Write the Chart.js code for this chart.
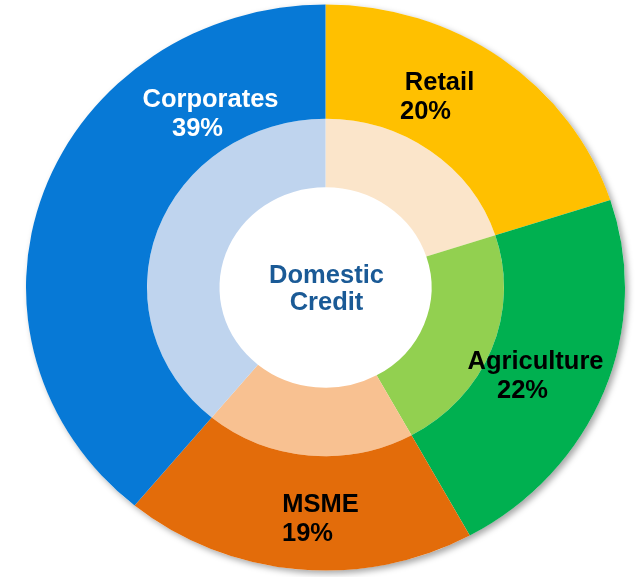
<!DOCTYPE html>
<html>
<head>
<meta charset="utf-8">
<script src="https://cdn.jsdelivr.net/npm/chart.js@4"></script>
<style>
  html, body { margin: 0; padding: 0; background: #fff; overflow: hidden; }
  body { width: 641px; height: 577px; position: relative; }
  #wrap { position: absolute; left: 0; top: -12.5px; width: 641px; height: 599px; }
</style>
</head>
<body>
<div id="wrap"><canvas id="chart"></canvas></div>
<script>
// segments, clockwise from 12 o'clock
var categories = ["Retail", "Agriculture", "MSME", "Corporates"];
var shares = [20, 22, 19, 39];
var outerColors = ["#FFC000", "#00B050", "#E36C0A", "#0779D6"];
var innerColors = ["#FBE5CA", "#92D050", "#F8C191", "#BFD4EE"];
var centerLines = ["Domestic", "Credit"];

// label spots (baseline of first line), offset from the ring centre on the page
var labelSpots = {
    "Retail":      { dx: 114, dy: -198, dx2: 100, color: "#000" },
    "Agriculture": { dx: 210, dy: 81,   dx2: 197, color: "#000" },
    "MSME":        { dx: -5,  dy: 224,  dx2: -18, color: "#000" },
    "Corporates":  { dx: -115, dy: -181, dx2: -128, color: "#fff" }
};
var squash = 0.945;
var pageShift = -12.5;
var font = 'bold 25.5px "Liberation Sans", Arial, sans-serif';

var ringPlugin = {
    id: "ringPlugin",
    beforeDatasetsDraw: function(chart) {
        var ctx = chart.ctx;
        var arc = chart.getDatasetMeta(0).data[0];
        var x = arc.x, y = arc.y;
        ctx.save();
        ctx.translate(x, y);
        ctx.scale(1, squash);
        ctx.translate(-x, -y);
        // soft shadow behind the whole ring
        ctx.save();
        ctx.shadowColor = "rgba(0,0,0,0.35)";
        ctx.shadowBlur = 6;
        ctx.shadowOffsetX = 3;
        ctx.shadowOffsetY = 3;
        ctx.fillStyle = "#fff";
        ctx.beginPath();
        ctx.arc(x, y, arc.outerRadius, 0, Math.PI * 2);
        ctx.fill();
        ctx.restore();
    },
    afterDatasetsDraw: function(chart) {
        chart.ctx.restore();
    },
    afterDraw: function(chart) {
        var ctx = chart.ctx;
        var arc = chart.getDatasetMeta(0).data[0];
        var cx = arc.x, cy = arc.y + pageShift;
        ctx.save();
        ctx.font = font;
        ctx.textAlign = "center";
        ctx.textBaseline = "alphabetic";
        var total = shares.reduce(function(a, b) { return a + b; }, 0);
        categories.forEach(function(name, i) {
            var s = labelSpots[name];
            var pct = Math.round(shares[i] / total * 100) + "%";
            ctx.fillStyle = s.color;
            ctx.fillText(name, cx + s.dx, cy + s.dy - pageShift);
            ctx.fillText(pct, cx + s.dx2, cy + s.dy + 29 - pageShift);
        });
        ctx.fillStyle = "#1A5A96";
        ctx.fillText(centerLines[0], cx + 1, cy - 5 - pageShift);
        ctx.fillText(centerLines[1], cx + 1, cy + 22 - pageShift);
        ctx.restore();
    }
};

var ctx = document.getElementById("chart");
var chart = new Chart(ctx, {
    type: "doughnut",
    data: {
        labels: categories,
        datasets: [
            {
                data: shares,
                backgroundColor: outerColors,
                borderWidth: 0,
                weight: 121
            },
            {
                data: shares,
                backgroundColor: innerColors,
                borderWidth: 0,
                weight: 72.5
            }
        ]
    },
    options: {
        responsive: true,
        maintainAspectRatio: false,
        animation: false,
        events: [],
        cutout: "35.4%",
        layout: { padding: { left: 26, right: 16, top: 0, bottom: 0 } },
        plugins: {
            legend: { display: false },
            tooltip: { enabled: false }
        }
    },
    plugins: [ringPlugin]
});
</script>
</body>
</html>
